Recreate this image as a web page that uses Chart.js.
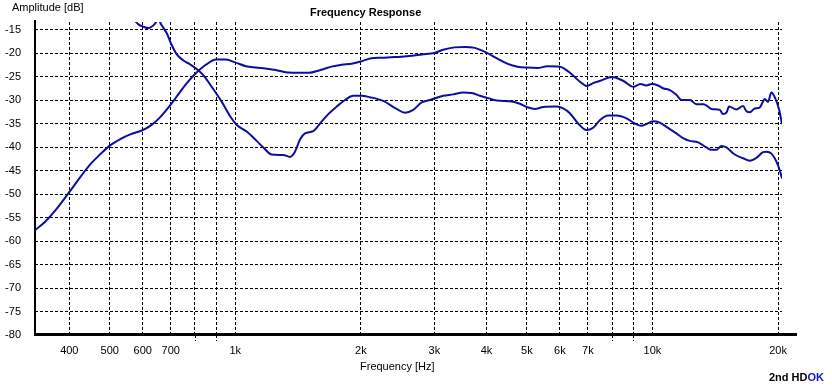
<!DOCTYPE html>
<html>
<head>
<meta charset="utf-8">
<script src="https://cdn.jsdelivr.net/npm/chart.js@4/dist/chart.umd.min.js"></script>
<style>
html,body{margin:0;padding:0;background:#fff;}
canvas{display:block;}
</style>
</head>
<body>
<canvas id="c" width="832" height="385"></canvas>
<script>
// ---- data ----
const freqA = [331,350,375,400,425,450,475,500,530,560,600,630,660,700,730,760,800,850,900,950,1000,1060,1120,1180,1250,1320,1400,1450,1500,1600,1700,1800,1900,2000,2120,2240,2360,2500,2650,2800,3000,3150,3350,3550,3750,4000,4250,4500,4750,5000,5300,5600,6000,6300,6700,6950,7250,7500,8000,8500,9000,9360,9670,9950,10310,10600,11010,11410,11730,12290,12750,13270,13850,14500,14760,15040,15260,15890,16490,16800,17110,17580,18070,18410,18580,18920,19280,19640,20110,20440];
const dbA = [-57.7,-55.9,-52.9,-49.6,-46.4,-43.6,-41.5,-39.7,-38.3,-37.3,-36.4,-35.3,-33.7,-31.0,-28.8,-26.7,-24.5,-22.5,-21.4,-21.4,-22.0,-22.8,-23.1,-23.3,-23.6,-24.1,-24.2,-24.2,-24.2,-23.6,-22.9,-22.5,-22.3,-21.8,-21.1,-21.0,-20.9,-20.8,-20.6,-20.3,-20.0,-19.3,-18.8,-18.7,-18.9,-19.9,-21.2,-22.3,-22.9,-23.1,-23.2,-22.8,-22.9,-24.0,-26.1,-27.0,-26.3,-25.9,-25.1,-25.9,-27.2,-26.6,-26.9,-26.6,-26.9,-27.5,-27.9,-28.9,-30.0,-30.0,-30.9,-30.9,-31.9,-32.1,-33.0,-32.7,-31.4,-32.0,-31.3,-32.4,-32.6,-31.8,-31.6,-30.3,-29.8,-30.4,-28.4,-29.4,-32.0,-35.1];

const freqB = [559,586,602,619,640,653,666,685,704,724,751,779,808,838,878,928,971,1008,1065,1125,1167,1222,1303,1352,1390,1429,1469,1538,1596,1671,1750,1832,1918,2008,2102,2262,2436,2551,2670,2797,2928,3150,3330,3518,3685,3858,4037,4229,4594,4810,5035,5224,5469,5888,6107,6337,6633,6950,7208,7477,7831,8200,8665,9070,9410,9674,10030,10410,10800,11410,11840,12290,12860,13470,13850,14240,14630,15040,15750,16490,17110,17750,18410,18760,19280,19820,20180,20440];
const dbB = [-12.0,-13.9,-14.4,-14.7,-13.9,-12.9,-14.1,-15.8,-18.3,-20.3,-21.6,-22.4,-23.4,-24.7,-27.2,-30.4,-33.4,-35.3,-36.7,-38.7,-40.1,-41.6,-41.7,-42.1,-41.0,-38.4,-37.1,-36.6,-35.0,-33.0,-31.4,-30.0,-29.1,-29.1,-29.4,-30.2,-31.9,-32.7,-32.1,-30.5,-30.0,-29.1,-28.8,-28.4,-28.5,-29.1,-29.6,-30.1,-30.3,-30.8,-31.6,-31.9,-31.5,-31.4,-31.8,-32.8,-35.0,-36.4,-35.9,-34.3,-33.3,-33.3,-33.9,-35.0,-35.5,-35.1,-34.5,-34.8,-35.7,-37.1,-38.1,-38.7,-39.0,-40.1,-40.6,-40.6,-39.8,-40.1,-41.6,-42.4,-42.9,-42.3,-41.1,-41.0,-41.4,-43.1,-44.9,-46.7];

const xTickValues = [400,500,600,700,800,900,1000,2000,3000,4000,5000,6000,7000,8000,9000,10000,20000];
const xTickLabels = ['400','500','600','700','','','1k','2k','3k','4k','5k','6k','7k','','','10k','20k'];
const xMinorExt = [800,900,8000,9000];
const yTickValues = [-15,-20,-25,-30,-35,-40,-45,-50,-55,-60,-65,-70,-75,-80];

const titleText = 'Frequency Response';
const yTitle = 'Amplitude [dB]';
const xTitle = 'Frequency [Hz]';
const footA = '2nd HD';
const footB = 'OK';

// ---- chart ----
const FONT = "'Liberation Sans', Arial, sans-serif";
Chart.defaults.font.family = FONT;
Chart.defaults.font.size = 11;
Chart.defaults.color = '#000';

const lineColor = '#0d0d9e';
const toPts = (fx, fy) => fx.map((f, i) => ({x: f, y: fy[i]}));

const decor = {
  id: 'decor',
  beforeDatasetsDraw(chart) {
    const {ctx, chartArea: a, scales: {x}} = chart;
    ctx.save();
    ctx.strokeStyle = '#000';
    ctx.lineWidth = 1;
    ctx.setLineDash([3, 2]);
    xMinorExt.forEach(v => {
      const px = Math.round(x.getPixelForValue(v)) + 0.5;
      ctx.beginPath();
      ctx.moveTo(px, a.bottom);
      ctx.lineTo(px, a.bottom + 6);
      ctx.stroke();
    });
    ctx.setLineDash([]);
    ctx.lineWidth = 2;
    ctx.beginPath();
    ctx.moveTo(a.left, a.top - 2);
    ctx.lineTo(a.left, a.bottom + 1);
    ctx.stroke();
    ctx.lineWidth = 3;
    ctx.beginPath();
    ctx.moveTo(a.left - 1, a.bottom - 0.5);
    ctx.lineTo(797, a.bottom - 0.5);
    ctx.stroke();
    ctx.restore();
  },
  afterDraw(chart) {
    const ctx = chart.ctx;
    ctx.save();
    ctx.fillStyle = '#000';
    ctx.textBaseline = 'alphabetic';
    ctx.textAlign = 'left';
    ctx.font = '11px ' + FONT;
    ctx.fillText(yTitle, 12, 11);
    ctx.fillText(xTitle, 360, 370);
    ctx.font = 'bold 11px ' + FONT;
    ctx.fillText(titleText, 310, 16);
    ctx.fillText(footA, 769, 381);
    const w = ctx.measureText(footA).width;
    ctx.fillStyle = '#1414c8';
    ctx.fillText(footB, 769 + w, 381);
    ctx.restore();
  }
};

new Chart(document.getElementById('c'), {
  type: 'line',
  data: {
    datasets: [
      {data: toPts(freqA, dbA), borderColor: lineColor, borderWidth: 2, pointRadius: 0, cubicInterpolationMode: 'monotone', fill: false},
      {data: toPts(freqB, dbB), borderColor: lineColor, borderWidth: 2, pointRadius: 0, cubicInterpolationMode: 'monotone', fill: false}
    ]
  },
  options: {
    responsive: false,
    animation: false,
    devicePixelRatio: 1,
    layout: {padding: {top: 22, right: 50, bottom: 0, left: 0}},
    plugins: {legend: {display: false}, tooltip: {enabled: false}, title: {display: false}},
    scales: {
      x: {
        type: 'logarithmic',
        min: 331,
        max: 20440,
        afterBuildTicks: s => { s.ticks = xTickValues.map(v => ({value: v})); },
        afterFit: s => { s.height = 50; },
        grid: {color: '#000', lineWidth: 1, drawTicks: false, borderDash: [3, 2]},
        border: {display: false, dash: [3, 2]},
        ticks: {
          autoSkip: false, maxRotation: 0, minRotation: 0, padding: 9,
          color: '#000', font: {size: 11},
          callback: (v) => { const i = xTickValues.indexOf(v); return i >= 0 ? xTickLabels[i] : ''; }
        }
      },
      y: {
        type: 'linear',
        min: -80,
        max: -13.4,
        afterBuildTicks: s => { s.ticks = yTickValues.map(v => ({value: v})); },
        afterFit: s => { s.width = 35; },
        grid: {color: '#000', lineWidth: 1, drawTicks: false, borderDash: [3, 2]},
        border: {display: false, dash: [3, 2]},
        ticks: {padding: 14, color: '#000', font: {size: 11}}
      }
    }
  },
  plugins: [decor]
});
</script>
</body>
</html>
